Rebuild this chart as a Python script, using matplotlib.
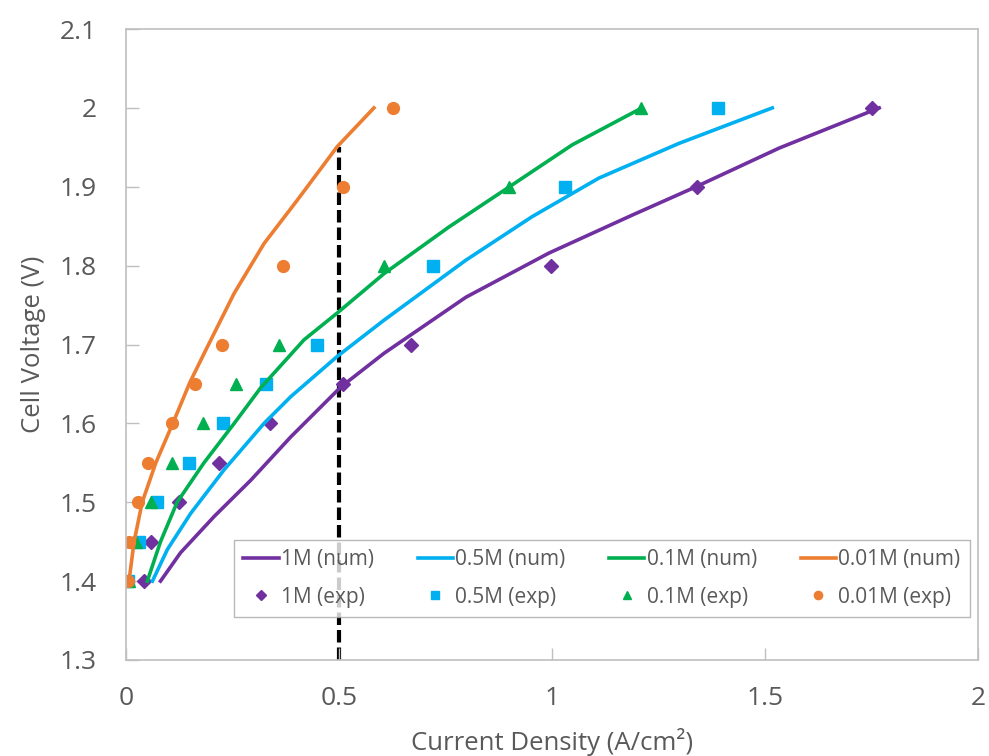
import matplotlib.pyplot as plt

plt.rcParams['font.family'] = ['Open Sans', 'DejaVu Sans']

# experimental points (current density A/cm2, voltage V)
v_exp = [1.4, 1.45, 1.5, 1.55, 1.6, 1.65, 1.7, 1.8, 1.9, 2.0]
j_exp_1M = [0.042, 0.059, 0.124, 0.218, 0.338, 0.509, 0.669, 0.998, 1.34, 1.75]
j_exp_05M = [0.005, 0.03, 0.073, 0.148, 0.228, 0.329, 0.448, 0.72, 1.03, 1.39]
j_exp_01M = [0.007, 0.023, 0.059, 0.108, 0.181, 0.258, 0.359, 0.605, 0.90, 1.21]
j_exp_001M = [0.005, 0.007, 0.028, 0.052, 0.108, 0.162, 0.225, 0.368, 0.509, 0.627]

# numerical curves
j_num_1M = [0.081, 0.128, 0.207, 0.293, 0.387, 0.504, 0.606, 0.798, 0.993, 1.188, 1.338, 1.533, 1.768]
v_num_1M = [1.4, 1.436, 1.482, 1.528, 1.583, 1.646, 1.689, 1.76, 1.816, 1.864, 1.90, 1.949, 2.0]
j_num_05M = [0.062, 0.097, 0.152, 0.23, 0.324, 0.387, 0.496, 0.606, 0.798, 0.953, 1.11, 1.298, 1.517]
v_num_05M = [1.4, 1.44, 1.486, 1.541, 1.6, 1.634, 1.685, 1.731, 1.807, 1.862, 1.911, 1.955, 2.0]
j_num_01M = [0.05, 0.081, 0.12, 0.183, 0.254, 0.316, 0.418, 0.496, 0.606, 0.758, 0.90, 1.047, 1.211]
v_num_01M = [1.4, 1.45, 1.5, 1.55, 1.6, 1.645, 1.706, 1.74, 1.79, 1.849, 1.90, 1.953, 2.0]
j_num_001M = [0.007, 0.019, 0.038, 0.07, 0.113, 0.15, 0.191, 0.254, 0.324, 0.402, 0.496, 0.582]
v_num_001M = [1.4, 1.45, 1.5, 1.55, 1.604, 1.652, 1.697, 1.765, 1.828, 1.883, 1.951, 2.0]

purple = '#7030A0'
blue = '#00B0F0'
green = '#00B050'
orange = '#ED7D31'
grey = '#595959'

fig = plt.figure(figsize=(9.89, 7.56), dpi=100)
ax = fig.add_axes([0.1274, 0.127, 0.8615, 0.8346])

ax.plot([0.5, 0.5], [1.3, 1.951], color='black', lw=3, ls=(0, (3, 1.2)), zorder=1)

ax.plot(j_num_1M, v_num_1M, color=purple, lw=2.6, label='1M (num)')
ax.plot(j_exp_1M, v_exp, ls='none', marker='D', ms=7.5, color=purple, label='1M (exp)')
ax.plot(j_num_05M, v_num_05M, color=blue, lw=2.6, label='0.5M (num)')
ax.plot(j_exp_05M, v_exp, ls='none', marker='s', ms=8, color=blue, label='0.5M (exp)')
ax.plot(j_num_01M, v_num_01M, color=green, lw=2.6, label='0.1M (num)')
ax.plot(j_exp_01M, v_exp, ls='none', marker='^', ms=9, color=green, label='0.1M (exp)')
ax.plot(j_num_001M, v_num_001M, color=orange, lw=2.6, label='0.01M (num)')
ax.plot(j_exp_001M, v_exp, ls='none', marker='o', ms=8.5, color=orange, label='0.01M (exp)')

ax.set_xlim(0, 2)
ax.set_ylim(1.3, 2.1)
ax.set_xticks([0, 0.5, 1, 1.5, 2])
ax.set_xticklabels(['0', '0.5', '1', '1.5', '2'])
ax.set_yticks([1.3, 1.4, 1.5, 1.6, 1.7, 1.8, 1.9, 2.0, 2.1])
ax.set_yticklabels(['1.3', '1.4', '1.5', '1.6', '1.7', '1.8', '1.9', '2', '2.1'])
ax.tick_params(direction='in', length=9, width=1, color='#BFBFBF',
               labelsize=19, labelcolor=grey, pad=21)
ax.tick_params(axis='x', pad=19)
for s in ax.spines.values():
    s.set_color('#BFBFBF')
    s.set_linewidth(1.2)

ax.set_xlabel('Current Density (A/cm²)', fontsize=18.5, color=grey, labelpad=12)
ax.set_ylabel('Cell Voltage (V)', fontsize=18.5, color=grey, labelpad=10)

leg = ax.legend(ncol=4, loc='lower right', bbox_to_anchor=(0.99, 0.068),
                borderaxespad=0, fontsize=15, frameon=True, fancybox=False,
                edgecolor='#A6A6A6', handlelength=1.7, handletextpad=0.1,
                columnspacing=2.1, labelspacing=0.8, borderpad=0.45,
                numpoints=1, markerscale=0.7)
for t in leg.get_texts():
    t.set_color(grey)

fig.savefig('out.png', dpi=100)
